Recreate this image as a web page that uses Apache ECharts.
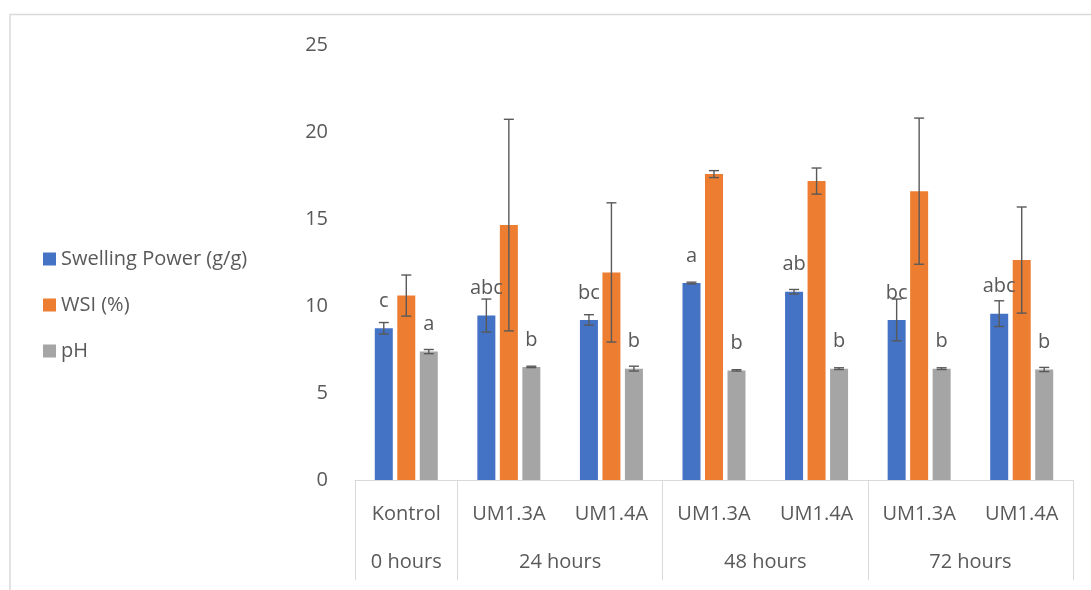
<!DOCTYPE html>
<html>
<head>
<meta charset="utf-8">
<script src="https://cdn.jsdelivr.net/npm/echarts@6/dist/echarts.min.js"></script>
<style>
html,body{margin:0;padding:0;background:#fff;}
#chart{width:1091px;height:590px;}
</style>
</head>
<body>
<div id="chart"></div>
<script>
// ---- data ----
var categories = ['Kontrol', 'UM1.3A', 'UM1.4A', 'UM1.3A', 'UM1.4A', 'UM1.3A', 'UM1.4A'];
var groupLabels = ['', '0 hours', '', '', '24 hours', '', '', '', '48 hours', '', '', '', '72 hours', '', ''];
var groupBoundaries = [0, 2, 6, 10, 14];
var seriesNames = ['Swelling Power (g/g)', 'WSI (%)', 'pH'];
var swelling = [8.72, 9.45, 9.2, 11.32, 10.82, 9.2, 9.56];
var swellingErr = [0.33, 0.95, 0.3, 0.05, 0.13, 1.2, 0.74];
var wsi = [10.6, 14.65, 11.93, 17.58, 17.18, 16.6, 12.64];
var wsiErr = [1.18, 6.08, 4.0, 0.2, 0.75, 4.2, 3.05];
var ph = [7.38, 6.5, 6.4, 6.3, 6.4, 6.4, 6.35];
var phErr = [0.12, 0.04, 0.14, 0.04, 0.05, 0.05, 0.12];
var swellingLetters = ['c', 'abc', 'bc', 'a', 'ab', 'bc', 'abc'];
var phLetters = ['a', 'b', 'b', 'b', 'b', 'b', 'b'];
var yTicks = [0, 5, 10, 15, 20, 25];

var TEXT = '#595959';
var FONT = 'Open Sans';
var FS = 20;
var colors = ['#4472C4', '#ED7D31', '#A5A5A5'];

function errData(vals, errs) {
  return vals.map(function (v, i) { return [i, v - errs[i], v + errs[i]]; });
}

function errSeries(vals, errs, offset) {
  return {
    type: 'custom',
    xAxisIndex: 0,
    yAxisIndex: 0,
    silent: true,
    z: 5,
    data: errData(vals, errs),
    encode: { x: 0, y: [1, 2] },
    renderItem: function (params, api) {
      var lo = api.coord([api.value(0), api.value(1)]);
      var hi = api.coord([api.value(0), api.value(2)]);
      var x = lo[0] + offset;
      var cap = 5;
      var st = { stroke: '#595959', lineWidth: 1.4 };
      return {
        type: 'group',
        children: [
          { type: 'line', shape: { x1: x, y1: lo[1], x2: x, y2: hi[1] }, style: st },
          { type: 'line', shape: { x1: x - cap, y1: lo[1], x2: x + cap, y2: lo[1] }, style: st },
          { type: 'line', shape: { x1: x - cap, y1: hi[1], x2: x + cap, y2: hi[1] }, style: st }
        ]
      };
    }
  };
}

function letterLabel(letters) {
  return {
    show: true,
    position: 'top',
    distance: 17,
    color: TEXT,
    fontFamily: FONT,
    fontSize: FS,
    formatter: function (p) { return letters[p.dataIndex]; }
  };
}

var chart = echarts.init(document.getElementById('chart'), null, { renderer: 'canvas' });
chart.setOption({
  animation: false,
  backgroundColor: '#fff',
  textStyle: { fontFamily: FONT },
  graphic: [
    { type: 'rect', shape: { x: 10, y: 14.5, width: 1200, height: 700 }, style: { fill: 'none', stroke: '#d9d9d9', lineWidth: 1.5 }, silent: true }
  ],
  legend: {
    orient: 'vertical',
    left: 38,
    top: 244,
    itemWidth: 13,
    itemHeight: 13,
    itemGap: 26,
    icon: 'rect',
    textStyle: { color: TEXT, fontFamily: FONT, fontSize: FS, padding: [0, 0, 0, 0] },
    data: seriesNames
  },
  grid: { left: 355, right: 18, top: 45, bottom: 110, containLabel: false },
  xAxis: [
    {
      type: 'category',
      data: categories,
      position: 'bottom',
      axisLine: { show: true, lineStyle: { color: '#d9d9d9', width: 1 } },
      axisTick: { show: false },
      axisLabel: { color: TEXT, fontFamily: FONT, fontSize: FS, margin: 24, interval: 0 },
      splitLine: { show: false }
    },
    {
      type: 'category',
      data: groupLabels,
      boundaryGap: false,
      position: 'bottom',
      axisLine: { show: false },
      axisTick: {
        show: true,
        length: 100,
        interval: function (idx) { return groupBoundaries.indexOf(idx) >= 0; },
        lineStyle: { color: '#d9d9d9', width: 1 }
      },
      axisLabel: { color: TEXT, fontFamily: FONT, fontSize: FS, margin: 72, interval: 0 },
      splitLine: { show: false }
    }
  ],
  yAxis: {
    type: 'value',
    min: yTicks[0],
    max: yTicks[yTicks.length - 1],
    interval: yTicks[1] - yTicks[0],
    axisLine: { show: false },
    axisTick: { show: false },
    splitLine: { show: false },
    axisLabel: { color: TEXT, fontFamily: FONT, fontSize: FS, margin: 27 }
  },
  series: [
    { name: seriesNames[0], type: 'bar', data: swelling, barWidth: 18, barGap: '25%', itemStyle: { color: colors[0] }, label: letterLabel(swellingLetters), z: 3 },
    { name: seriesNames[1], type: 'bar', data: wsi, barWidth: 18, barGap: '25%', itemStyle: { color: colors[1] }, z: 3 },
    { name: seriesNames[2], type: 'bar', data: ph, barWidth: 18, barGap: '25%', itemStyle: { color: colors[2] }, label: letterLabel(phLetters), z: 3 },
    errSeries(swelling, swellingErr, -22.5),
    errSeries(wsi, wsiErr, 0),
    errSeries(ph, phErr, 22.5)
  ]
});
</script>
</body>
</html>
